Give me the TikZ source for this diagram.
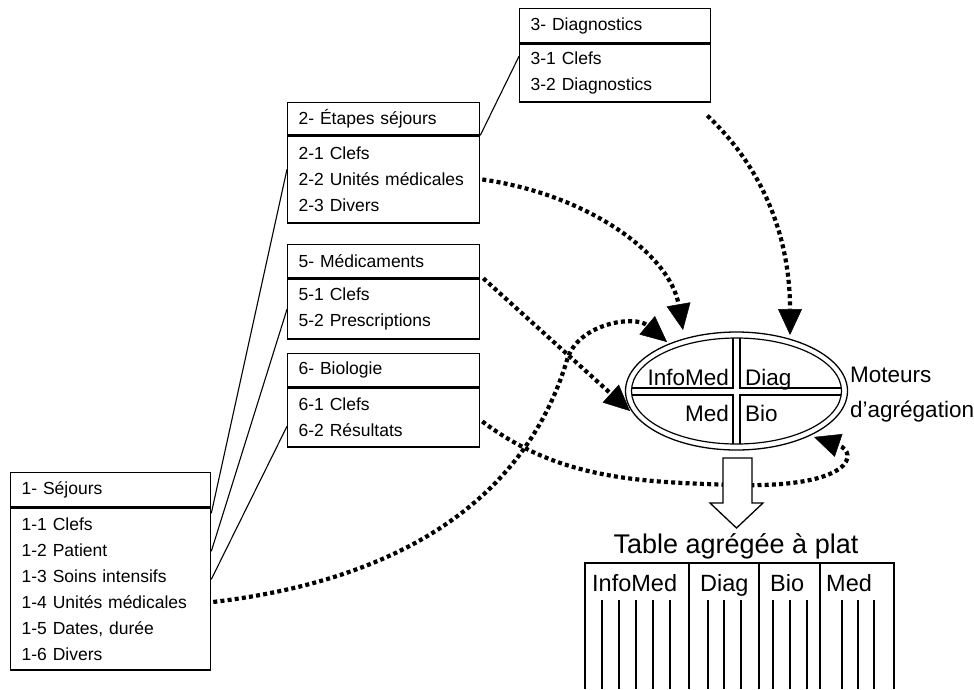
\documentclass[tikz,border=0pt]{standalone}
\usepackage{fontspec}
\setmainfont{Liberation Sans}
\usetikzlibrary{arrows.meta,shapes.geometric}
\begin{document}
\begin{tikzpicture}[x=1pt,y=-1pt,
  boxfont/.style={font=\fontsize{17.5pt}{26pt}\selectfont},
  tblbox/.style={draw, line width=1.3pt, rectangle, anchor=north west,
    inner xsep=11pt, inner ysep=0pt, align=left, boxfont},
  link/.style={line width=1.1pt},
  flow/.style={line width=4.2pt, dash pattern=on 4pt off 3.2pt,
    -{Triangle[length=26pt,width=24pt,line width=0.5pt]}},
  engtxt/.style={font=\fontsize{22.5pt}{27pt}\selectfont, inner sep=0pt},
  coltxt/.style={font=\fontsize{23.5pt}{28pt}\selectfont, inner sep=0pt, anchor=base west},
  frame/.style={line width=1.3pt},
  colline/.style={line width=1.2pt}]
\useasboundingbox (0,0) rectangle (974,689);

% ---------- source tables ----------
\node[tblbox, text width=178pt, minimum height=34pt] (b1h) at (10,472) {1- Séjours};
\node[tblbox, text width=178pt, minimum height=162pt] (b1b) at (b1h.south west)
  {1-1 Clefs\\1-2 Patient\\1-3 Soins intensifs\\1-4 Unités médicales\\1-5 Dates, durée\\1-6 Divers};

\node[tblbox, text width=170pt, minimum height=32pt] (b2h) at (287,102) {2- Étapes séjours};
\node[tblbox, text width=170pt, minimum height=87pt] (b2b) at (b2h.south west)
  {2-1 Clefs\\2-2 Unités médicales\\2-3 Divers};

\node[tblbox, text width=169pt, minimum height=34pt] (b3h) at (519,8) {3- Diagnostics};
\node[tblbox, text width=169pt, minimum height=58pt] (b3b) at (b3h.south west)
  {3-1 Clefs\\3-2 Diagnostics};

\node[tblbox, text width=170pt, minimum height=33pt] (b5h) at (287,244) {5- Médicaments};
\node[tblbox, text width=170pt, minimum height=60pt] (b5b) at (b5h.south west)
  {5-1 Clefs\\5-2 Prescriptions};

\node[tblbox, text width=170pt, minimum height=33pt] (b6h) at (287,353) {6- Biologie};
\node[tblbox, text width=170pt, minimum height=59pt] (b6b) at (b6h.south west)
  {6-1 Clefs\\6-2 Résultats};

% ---------- key links ----------
\draw[link] ([yshift=-6pt]b1b.north east) -- ([yshift=-34pt]b2b.north west);
\draw[link] ([yshift=-44pt]b1b.north east) -- ([yshift=-31pt]b5b.north west);
\draw[link] ([yshift=-72pt]b1b.north east) -- ([yshift=-39pt]b6b.north west);
\draw[link] (b2h.south east) -- ([yshift=-13pt]b3b.north west);

% ---------- aggregation engine ----------
\node[draw, ellipse, line width=1.3pt, minimum width=222pt, minimum height=118pt,
  inner sep=0pt] (eng) at (736.5,391) {};
\draw[line width=1.2pt] (eng.center) ellipse [x radius=105pt, y radius=53pt];
\begin{scope}
  \clip (eng.center) ellipse [x radius=105pt, y radius=53pt];
  \draw[line width=1.2pt] (733,388) rectangle (600,300);
  \draw[line width=1.2pt] (740,388) rectangle (880,300);
  \draw[line width=1.2pt] (733,395) rectangle (600,480);
  \draw[line width=1.2pt] (740,395) rectangle (880,480);
\end{scope}
\node[engtxt, anchor=base east] (qinfo) at (729,385) {InfoMed};
\node[engtxt, anchor=base west] (qdiag) at (745,385) {Diag};
\node[engtxt, anchor=base east] (qmed) at (729,421) {Med};
\node[engtxt, anchor=base west] (qbio) at (745,421) {Bio};
\node[engtxt, anchor=base west] (mot1) at (850,382) {Moteurs};
\node[engtxt, anchor=base west] (mot2) at (850,417) {d’agrégation};

% ---------- arrow tips near the engine ----------
\coordinate (t1) at (683,330);
\coordinate (t2) at (790,335);
\coordinate (t3) at (630,411);
\coordinate (t4) at (667,342);
\coordinate (t5) at (814,437);

% ---------- data flows ----------
\draw[flow] ([xshift=2pt]b2b.east) .. controls (590,195) and (670,255) .. (t1);
\draw[flow] ([xshift=-4pt,yshift=-13pt]b3b.south east) .. controls (765,170) and (790,240) .. (t2);
\draw[flow] ([xshift=3pt]b5h.south east) -- (t3);
\draw[flow] ([xshift=2pt,yshift=-13pt]b1b.east) .. controls (400,580) and (525,500) .. (567,360)
  .. controls (578,323) and (635,315) .. (t4);
\draw[flow] ([xshift=2pt,yshift=-4pt]b6b.east) .. controls (560,480) and (640,482) .. (736,485)
  .. controls (855,488) and (858,452) .. (t5);

% ---------- output arrow ----------
\draw[fill=white, line width=1.3pt] (723,458) -- (752,458) -- (752,503) -- (763,503)
  -- (736.5,528) -- (710,503) -- (723,503) -- cycle;

% ---------- flat aggregated table ----------
\node[font=\fontsize{27pt}{32pt}\selectfont, inner sep=0pt, anchor=base] (ttl) at (736,553)
  {Table agrégée à plat};
\draw[frame] (585,689) -- (585,563) -- (894,563) -- (894,689);
\foreach \x in {689,759,820} \draw[frame] (\x,563) -- (\x,689);
\node[coltxt] (hinfo) at (592,591) {InfoMed};
\node[coltxt] (hdiag) at (700,591) {Diag};
\node[coltxt] (hbio) at (770,591) {Bio};
\node[coltxt] (hmed) at (826,591) {Med};
\foreach \x in {602,619,636,653,670,708,724,741,773,790,807,842,858,874}
  \draw[colline] (\x,600) -- (\x,689);
\end{tikzpicture}
\end{document}
